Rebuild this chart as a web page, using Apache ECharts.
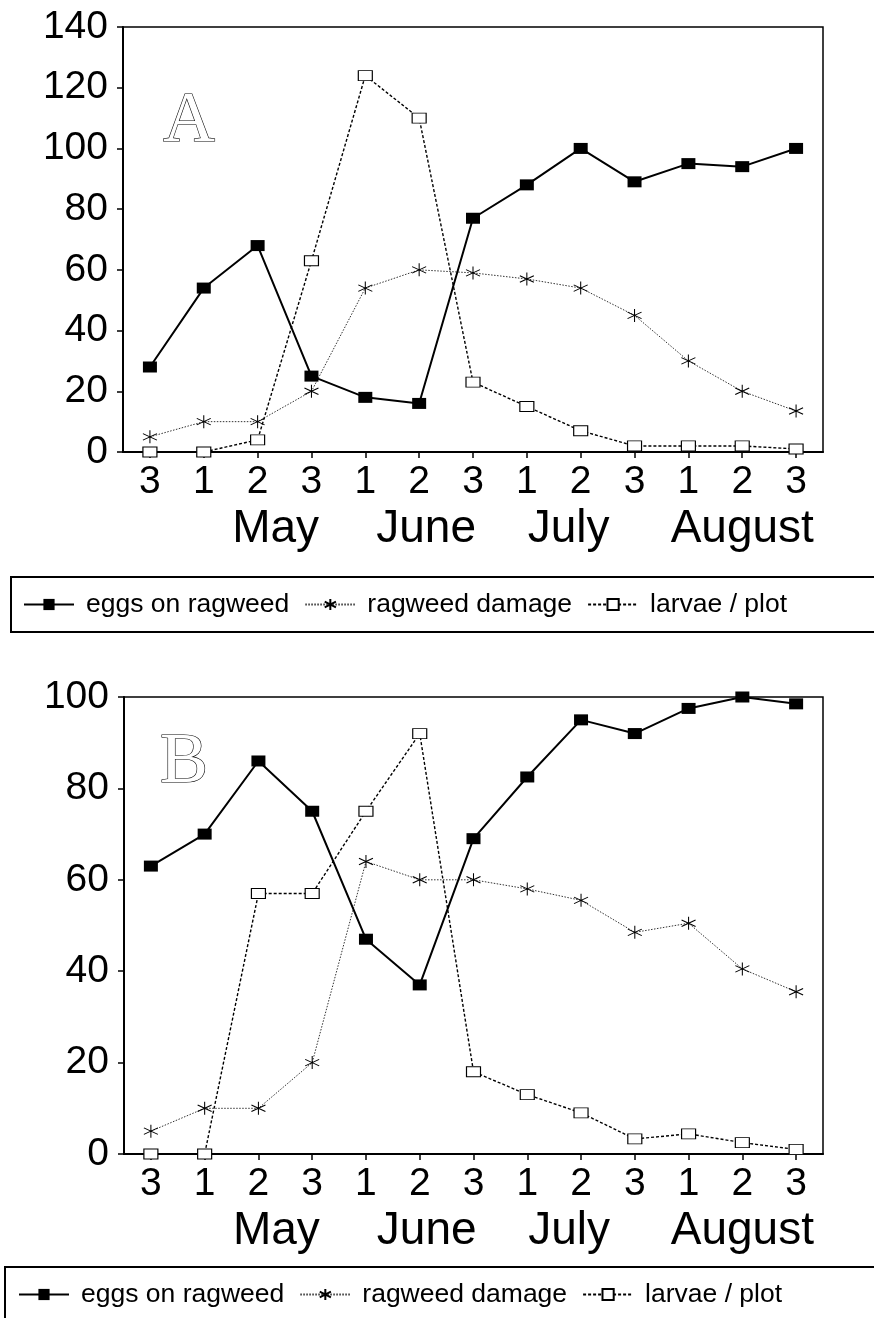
<!DOCTYPE html>
<html>
<head>
<meta charset="utf-8">
<script src="https://cdn.jsdelivr.net/npm/echarts@6/dist/echarts.min.js"></script>
<style>
html,body{margin:0;padding:0;background:#fff;}
#chart{width:874px;height:1318px;}
</style>
</head>
<body>
<div id="chart"></div>
<script>
// ---- data ----
const categories = ['Apr 3','May 1','May 2','May 3','Jun 1','Jun 2','Jun 3','Jul 1','Jul 2','Jul 3','Aug 1','Aug 2','Aug 3'];
const periodLabels = ['3','1','2','3','1','2','3','1','2','3','1','2','3'];
const monthLabels = ['','','May','','','June','','','July','','','August',''];
const seriesNames = ['eggs on ragweed','ragweed damage','larvae / plot'];

const A_eggs   = [28, 54, 68, 25, 18, 16, 77, 88, 100, 89, 95, 94, 100];
const A_damage = [5, 10, 10, 20, 54, 60, 59, 57, 54, 45, 30, 20, 13.5];
const A_larvae = [0, 0, 4, 63, 124, 110, 23, 15, 7, 2, 2, 2, 1];

const B_eggs   = [63, 70, 86, 75, 47, 37, 69, 82.5, 95, 92, 97.5, 100, 98.5];
const B_damage = [5, 10, 10, 20, 64, 60, 60, 58, 55.5, 48.5, 50.5, 40.5, 35.5];
const B_larvae = [0, 0, 57, 57, 75, 92, 18, 13, 9, 3.3, 4.4, 2.5, 1];

const A_yMax = 140, B_yMax = 100, yStep = 20;

// ---- styles ----
const FONT = '"Liberation Sans", Arial, Helvetica, sans-serif';
const asterisk = 'path://M0,-10L0,10M-8.66,-5L8.66,5M-8.66,5L8.66,-5';

function xAxisOpt(gridIndex){
  return {
    type:'category', gridIndex, data: categories, boundaryGap:true,
    axisLine:{show:true, lineStyle:{color:'#000', width:2}},
    axisTick:{show:true, alignWithLabel:true, length:6, lineStyle:{color:'#000', width:1.5}},
    axisLabel:{
      interval:0, margin:8, color:'#000', fontFamily:FONT,
      formatter:(v, i)=> monthLabels[i] ? '{d|'+periodLabels[i]+'}\n{m'+i+'|'+monthLabels[i]+'}' : '{d|'+periodLabels[i]+'}',
      rich:{
        d:{fontSize:39, lineHeight:44, fontFamily:FONT, color:'#000'},
        m2:{fontSize:46, lineHeight:50, fontFamily:FONT, color:'#000', padding:[0,0,0,36]},
        m5:{fontSize:46, lineHeight:50, fontFamily:FONT, color:'#000', padding:[0,0,0,14]},
        m8:{fontSize:46, lineHeight:50, fontFamily:FONT, color:'#000', padding:[0,24,0,0]},
        m11:{fontSize:46, lineHeight:50, fontFamily:FONT, color:'#000', padding:[0,0,0,0]}
      }
    },
    splitLine:{show:false}
  };
}
function yAxisOpt(gridIndex, max){
  return {
    type:'value', gridIndex, min:0, max, interval:yStep,
    axisLine:{show:true, lineStyle:{color:'#000', width:2}},
    axisTick:{show:true, length:6, lineStyle:{color:'#000', width:1.5}},
    axisLabel:{fontSize:39, margin:15, color:'#000', fontFamily:FONT},
    splitLine:{show:false}
  };
}
function seriesSet(idx, eggs, damage, larvae){
  return [
    {
      name:seriesNames[0], type:'line', xAxisIndex:idx, yAxisIndex:idx, data:eggs,
      symbol:'rect', symbolSize:[14,11], z:4,
      lineStyle:{color:'#000', width:2, type:'solid'},
      itemStyle:{color:'#000', borderColor:'#000', borderWidth:0}
    },
    {
      name:seriesNames[1], type:'line', xAxisIndex:idx, yAxisIndex:idx, data:damage,
      symbol:asterisk, symbolSize:[14,13], z:3,
      lineStyle:{color:'#333', width:1, type:[1.5,1.5]},
      itemStyle:{color:'rgba(0,0,0,0)', borderColor:'#000', borderWidth:1}
    },
    {
      name:seriesNames[2], type:'line', xAxisIndex:idx, yAxisIndex:idx, data:larvae,
      symbol:'rect', symbolSize:[14,10], z:2,
      lineStyle:{color:'#000', width:1.4, type:[3,2]},
      itemStyle:{color:'#fff', borderColor:'#000', borderWidth:1}
    }
  ];
}
function legendOpt(left, top){
  return {
    data:seriesNames, left, top, orient:'horizontal', padding:0,
    itemWidth:50, itemHeight:14, itemGap:15, selectedMode:false,
    textStyle:{fontSize:26.5, color:'#000', fontFamily:FONT, padding:[0,0,0,7]}
  };
}

const chart = echarts.init(document.getElementById('chart'), null, {renderer:'canvas'});
chart.setOption({
  backgroundColor:'#fff',
  animation:false,
  grid:[
    {left:123, right:51, top:27, height:425, show:true, borderColor:'#000', borderWidth:1.5, backgroundColor:'transparent'},
    {left:124, right:51, top:697, height:457, show:true, borderColor:'#000', borderWidth:1.5, backgroundColor:'transparent'}
  ],
  xAxis:[xAxisOpt(0), xAxisOpt(1)],
  yAxis:[yAxisOpt(0, A_yMax), yAxisOpt(1, B_yMax)],
  legend:[legendOpt(23, 591), legendOpt(18, 1281)],
  series:[].concat(seriesSet(0, A_eggs, A_damage, A_larvae), seriesSet(1, B_eggs, B_damage, B_larvae)),
  graphic:[
    {type:'rect', shape:{x:11, y:577, width:900, height:55}, style:{fill:'none', stroke:'#000', lineWidth:2}, silent:true},
    {type:'rect', shape:{x:5, y:1267, width:900, height:100}, style:{fill:'none', stroke:'#000', lineWidth:2}, silent:true},
    {type:'text', x:189, y:122, style:{text:'A', font:'72px "Liberation Serif", "DejaVu Serif", serif', fill:'#fff', stroke:'#000', lineWidth:1.2, textAlign:'center', textVerticalAlign:'middle'}, silent:true, z:10},
    {type:'text', x:184, y:763, style:{text:'B', font:'72px "Liberation Serif", "DejaVu Serif", serif', fill:'#fff', stroke:'#000', lineWidth:1.2, textAlign:'center', textVerticalAlign:'middle'}, silent:true, z:10}
  ]
});
</script>
</body>
</html>
